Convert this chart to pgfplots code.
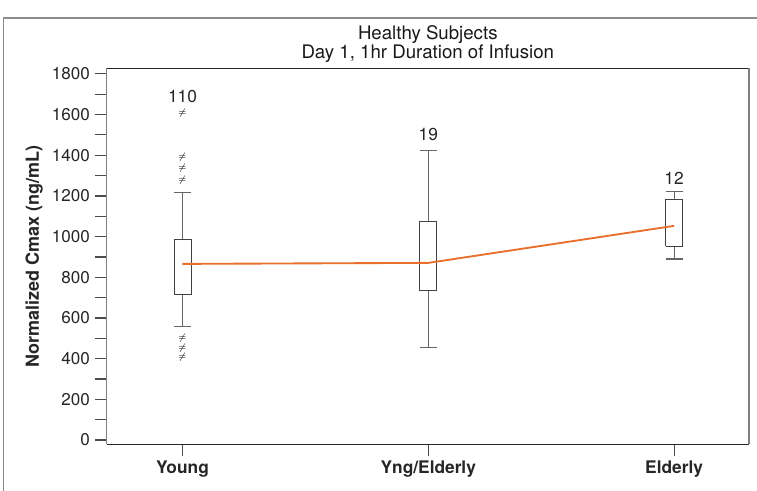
\documentclass[border=0pt]{standalone}
\usepackage{pgfplots}
\pgfplotsset{compat=1.18}
\usepackage{fontspec}
\setmainfont{TeX Gyre Heros}
\definecolor{meanorange}{RGB}{232,112,44}
\begin{document}
\begin{tikzpicture}
\useasboundingbox (0,0) rectangle (567.75pt,367.5pt);
\draw[black!45, line width=1.1pt] (2.6pt,-10pt) -- (2.6pt,354pt) -- (580pt,354pt);
\begin{axis}[
  at={(79.9pt,34.3pt)}, anchor=south west,
  scale only axis, width=481.9pt, height=282pt,
  xmin=0.691, xmax=3.305, ymin=-21, ymax=1828,
  separate axis lines,
  x axis line style={black!85, line width=0.8pt},
  y axis line style={black!50, line width=0.9pt},
  xtick={1,2,3}, xticklabels={Young,Yng/Elderly,Elderly},
  ytick={0,200,...,1800}, minor ytick={100,300,...,1700},
  xtick pos=bottom, ytick pos=left,
  tick align=outside,
  major tick length=9pt, minor tick length=9pt,
  tick style={black!70, line width=0.8pt},
  /pgf/number format/assume math mode=true,
  /pgf/number format/1000 sep={},
  yticklabel style={font=\fontsize{12.8}{15}\selectfont, text=black!85},
  xticklabel style={font=\bfseries\fontsize{13}{15}\selectfont, text=black!85},
  title={Healthy Subjects\\Day 1, 1hr Duration of Infusion},
  title style={align=center, font=\fontsize{14}{12.5}\selectfont, text=black!90, at={(0.5,1)}, anchor=south, yshift=-5pt},
  ylabel={Normalized Cmax (ng/mL)},
  ylabel style={font=\bfseries\fontsize{13.5}{15}\selectfont, text=black!85},
  unbounded coords=jump,
]
% whiskers
\addplot[black!60, line width=0.8pt, mark=none] coordinates {
 (1,984) (1,1215) (inf,inf) (0.9655,1215) (1.0345,1215) (inf,inf)
 (1,718) (1,556) (inf,inf) (0.9655,556) (1.0345,556)};
\addplot[black!60, line width=0.8pt, mark=none] coordinates {
 (2,1077) (2,1422) (inf,inf) (1.9655,1422) (2.0345,1422) (inf,inf)
 (2,733) (2,457) (inf,inf) (1.9655,457) (2.0345,457)};
\addplot[black!60, line width=0.8pt, mark=none] coordinates {
 (3,1181) (3,1220) (inf,inf) (2.9655,1220) (3.0345,1220) (inf,inf)
 (3,954) (3,890) (inf,inf) (2.9655,890) (3.0345,890)};
% boxes
\addplot[draw=black!75, fill=white, line width=0.7pt, mark=none] coordinates {(0.9655,718) (1.0345,718) (1.0345,984) (0.9655,984) (0.9655,718)};
\addplot[draw=black!75, fill=white, line width=0.7pt, mark=none] coordinates {(1.9655,733) (2.0345,733) (2.0345,1077) (1.9655,1077) (1.9655,733)};
\addplot[draw=black!75, fill=white, line width=0.7pt, mark=none] coordinates {(2.9655,954) (3.0345,954) (3.0345,1181) (2.9655,1181) (2.9655,954)};
% means
\addplot[meanorange, line width=1.4pt, mark=none] coordinates {(1,866) (2,871) (3,1053)};
% outliers
\addplot[black!70, only marks, mark=text, text mark={\fontsize{7}{7}\selectfont$\neq$}] coordinates {(1,1608) (1,1392) (1,1338) (1,1279) (1,502) (1,453) (1,408)};
% counts
\addplot[only marks, mark=none, nodes near coords, point meta=explicit symbolic, nodes near coords style={anchor=center, font=\fontsize{13}{15}\selectfont, text=black!85}] coordinates {(1,1687)[110] (2,1500)[19] (3,1289)[12]};
\end{axis}
\end{tikzpicture}
\end{document}
